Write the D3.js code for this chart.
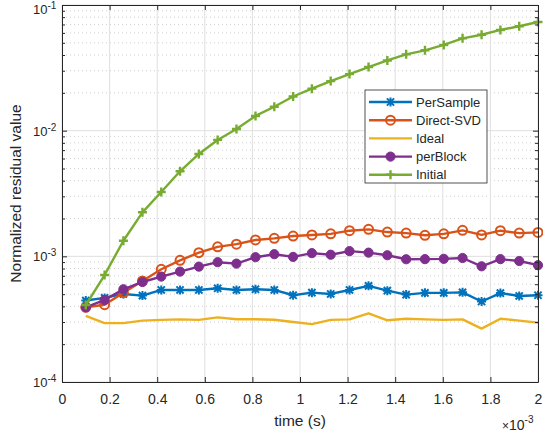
<!DOCTYPE html>
<html>
<head>
<meta charset="utf-8">
<script src="https://cdn.jsdelivr.net/npm/d3@7"></script>
<style>
  body { margin: 0; background: #fff; }
  #chart-area { width: 543px; height: 438px; }
  text { font-family: "Liberation Sans", Arial, sans-serif; fill: #262626; }
</style>
</head>
<body>
<div id="chart-area"></div>
<script>
// time samples (s)
let timeValues = [0.100e-3, 0.179e-3, 0.258e-3, 0.338e-3, 0.417e-3, 0.496e-3, 0.575e-3, 0.654e-3,
    0.733e-3, 0.813e-3, 0.892e-3, 0.971e-3, 1.050e-3, 1.129e-3, 1.208e-3, 1.288e-3, 1.367e-3,
    1.446e-3, 1.525e-3, 1.604e-3, 1.683e-3, 1.763e-3, 1.842e-3, 1.921e-3, 2.000e-3];

let perSample = [4.45e-4, 4.67e-4, 5.02e-4, 4.87e-4, 5.40e-4, 5.40e-4, 5.40e-4, 5.57e-4, 5.40e-4,
    5.47e-4, 5.40e-4, 4.90e-4, 5.14e-4, 5.02e-4, 5.40e-4, 5.82e-4, 5.33e-4, 4.96e-4, 5.12e-4,
    5.12e-4, 5.17e-4, 4.37e-4, 5.10e-4, 4.84e-4, 4.90e-4];

let directSVD = [3.93e-4, 4.12e-4, 5.14e-4, 6.37e-4, 7.89e-4, 9.30e-4, 1.07e-3, 1.19e-3, 1.25e-3,
    1.35e-3, 1.39e-3, 1.45e-3, 1.48e-3, 1.51e-3, 1.60e-3, 1.64e-3, 1.56e-3, 1.53e-3, 1.47e-3,
    1.51e-3, 1.61e-3, 1.48e-3, 1.60e-3, 1.53e-3, 1.55e-3];

let ideal = [3.36e-4, 2.94e-4, 2.94e-4, 3.08e-4, 3.12e-4, 3.15e-4, 3.12e-4, 3.27e-4, 3.16e-4,
    3.16e-4, 3.13e-4, 3.00e-4, 2.89e-4, 3.12e-4, 3.15e-4, 3.52e-4, 3.10e-4, 3.19e-4, 3.15e-4,
    3.12e-4, 3.15e-4, 2.66e-4, 3.19e-4, 3.08e-4, 2.97e-4];

let perBlock = [3.93e-4, 4.50e-4, 5.47e-4, 6.25e-4, 6.90e-4, 7.56e-4, 8.28e-4, 8.98e-4, 8.75e-4,
    9.84e-4, 1.04e-3, 9.90e-4, 1.06e-3, 1.03e-3, 1.10e-3, 1.07e-3, 1.02e-3, 9.48e-4, 9.50e-4,
    9.55e-4, 9.70e-4, 8.33e-4, 9.50e-4, 9.18e-4, 8.50e-4];

let initial = [4.10e-4, 7.10e-4, 1.33e-3, 2.24e-3, 3.25e-3, 4.75e-3, 6.53e-3, 8.44e-3, 1.03e-2,
    1.31e-2, 1.55e-2, 1.87e-2, 2.16e-2, 2.48e-2, 2.82e-2, 3.21e-2, 3.62e-2, 4.05e-2, 4.36e-2,
    4.81e-2, 5.43e-2, 5.80e-2, 6.33e-2, 6.78e-2, 7.32e-2];

let seriesNames = ["PerSample", "Direct-SVD", "Ideal", "perBlock", "Initial"];
let xTicks = [0, 0.2e-3, 0.4e-3, 0.6e-3, 0.8e-3, 1.0e-3, 1.2e-3, 1.4e-3, 1.6e-3, 1.8e-3, 2.0e-3];
let xTickLabels = ["0", "0.2", "0.4", "0.6", "0.8", "1", "1.2", "1.4", "1.6", "1.8", "2"];
let yTicks = [1e-4, 1e-3, 1e-2, 1e-1];
let yTickExponents = ["-4", "-3", "-2", "-1"];

class ResidualChart {

    constructor(parentElement) {
        this.parentElement = parentElement;
    }

    initVis() {
        let vis = this;

        vis.margin = {top: 5, right: 5, bottom: 56, left: 62};
        vis.width = 543 - vis.margin.left - vis.margin.right;
        vis.height = 438 - vis.margin.top - vis.margin.bottom;

        vis.svg = d3.select("#" + vis.parentElement)
            .append("svg")
            .attr("width", 543)
            .attr("height", 438)
            .append("g")
            .attr("transform", `translate(${vis.margin.left}, ${vis.margin.top})`);

        // Scales
        vis.x = d3.scaleLinear()
            .domain([0, 2e-3])
            .range([0, vis.width]);
        vis.y = d3.scaleLog()
            .domain([1e-4, 1e-1])
            .range([vis.height, 0]);

        vis.minorY = [];
        for (let e = -4; e < -1; e++) {
            for (let m = 2; m <= 9; m++) vis.minorY.push(m * Math.pow(10, e));
        }

        vis.wrangleData();
    }

    wrangleData() {
        let vis = this;

        let columns = [perSample, directSVD, ideal, perBlock, initial];
        let colors = ["#0072BD", "#D95319", "#EDB120", "#7E2F8E", "#77AC30"];
        let markers = ["star", "circle", "none", "dot", "plus"];

        vis.series = seriesNames.map((name, i) => ({
            name: name,
            color: colors[i],
            marker: markers[i],
            values: timeValues.map((t, j) => ({t: t, v: columns[i][j]}))
        }));

        vis.updateVis();
    }

    drawMarker(g, type, color, cx, cy) {
        if (type === "circle") {
            g.append("circle").attr("cx", cx).attr("cy", cy).attr("r", 4.5)
                .attr("fill", "none").attr("stroke", color).attr("stroke-width", 2);
        } else if (type === "dot") {
            g.append("circle").attr("cx", cx).attr("cy", cy).attr("r", 4.6)
                .attr("fill", color).attr("stroke", color).attr("stroke-width", 1);
        } else if (type === "plus") {
            g.append("path")
                .attr("d", `M${cx - 4.5},${cy}H${cx + 4.5}M${cx},${cy - 4.5}V${cy + 4.5}`)
                .attr("stroke", color).attr("stroke-width", 2.4).attr("fill", "none");
        } else if (type === "star") {
            let s = 3.6;
            g.append("path")
                .attr("d", `M${cx - 4.5},${cy}H${cx + 4.5}M${cx},${cy - 4.5}V${cy + 4.5}` +
                    `M${cx - s},${cy - s}L${cx + s},${cy + s}M${cx - s},${cy + s}L${cx + s},${cy - s}`)
                .attr("stroke", color).attr("stroke-width", 2).attr("fill", "none");
        }
    }

    updateVis() {
        let vis = this;

        // Minor grid (dotted)
        vis.svg.append("g").selectAll("line")
            .data(vis.minorY)
            .enter().append("line")
            .attr("x1", 0).attr("x2", vis.width)
            .attr("y1", d => vis.y(d)).attr("y2", d => vis.y(d))
            .attr("stroke", "#c4c4c4").attr("stroke-width", 0.8)
            .attr("stroke-dasharray", "1,3");

        // Major grid
        vis.svg.append("g").selectAll("line")
            .data(xTicks)
            .enter().append("line")
            .attr("x1", d => vis.x(d)).attr("x2", d => vis.x(d))
            .attr("y1", 0).attr("y2", vis.height)
            .attr("stroke", "#dfdfdf").attr("stroke-width", 1);
        vis.svg.append("g").selectAll("line")
            .data(yTicks)
            .enter().append("line")
            .attr("x1", 0).attr("x2", vis.width)
            .attr("y1", d => vis.y(d)).attr("y2", d => vis.y(d))
            .attr("stroke", "#dfdfdf").attr("stroke-width", 1);

        // Lines and markers
        let line = d3.line()
            .x(d => vis.x(d.t))
            .y(d => vis.y(d.v));

        vis.series.forEach(s => {
            let g = vis.svg.append("g");
            g.append("path")
                .datum(s.values)
                .attr("fill", "none")
                .attr("stroke", s.color)
                .attr("stroke-width", 2.4)
                .attr("stroke-linejoin", "round")
                .attr("d", line);
            s.values.forEach(d => vis.drawMarker(g, s.marker, s.color, vis.x(d.t), vis.y(d.v)));
        });

        // Axes (ticks inside, box)
        let axisColor = "#262626";
        let bottom = vis.svg.append("g")
            .attr("transform", `translate(0, ${vis.height})`)
            .call(d3.axisBottom(vis.x).tickValues(xTicks).tickSizeInner(-5).tickSizeOuter(0)
                .tickPadding(12).tickFormat((d, i) => xTickLabels[i]));
        let top = vis.svg.append("g")
            .call(d3.axisTop(vis.x).tickValues(xTicks).tickSizeInner(-5).tickSizeOuter(0).tickFormat(""));
        let left = vis.svg.append("g")
            .call(d3.axisLeft(vis.y).tickValues(yTicks).tickSizeInner(-5).tickSizeOuter(0).tickFormat(""));
        let right = vis.svg.append("g")
            .attr("transform", `translate(${vis.width}, 0)`)
            .call(d3.axisRight(vis.y).tickValues(yTicks).tickSizeInner(-5).tickSizeOuter(0).tickFormat(""));
        let leftMinor = vis.svg.append("g")
            .call(d3.axisLeft(vis.y).tickValues(vis.minorY).tickSizeInner(-3).tickSizeOuter(0).tickFormat(""));
        let rightMinor = vis.svg.append("g")
            .attr("transform", `translate(${vis.width}, 0)`)
            .call(d3.axisRight(vis.y).tickValues(vis.minorY).tickSizeInner(-3).tickSizeOuter(0).tickFormat(""));

        [bottom, top, left, right, leftMinor, rightMinor].forEach(a => {
            a.selectAll("path").attr("stroke", axisColor);
            a.selectAll("line").attr("stroke", axisColor);
            a.selectAll("text")
                .attr("fill", axisColor)
                .attr("font-size", "14px")
                .attr("font-family", "Liberation Sans, Arial, sans-serif");
        });
        leftMinor.select("path").remove();
        rightMinor.select("path").remove();

        // Y tick labels 10^n (top one nudged down to stay in view)
        yTicks.forEach((d, i) => {
            let t = vis.svg.append("text")
                .attr("x", -29)
                .attr("y", Math.max(vis.y(d) + 5, 9))
                .attr("font-size", "13px");
            t.append("tspan").text("10");
            t.append("tspan").attr("dy", -5).attr("font-size", "10px").text(yTickExponents[i]);
        });

        // Exponent label on x axis
        let ex = vis.svg.append("text")
            .attr("x", vis.width - 36)
            .attr("y", vis.height + 48)
            .attr("font-size", "14px");
        ex.append("tspan").attr("font-size", "12px").text("\u00d7");
        ex.append("tspan").text("10");
        ex.append("tspan").attr("dy", -7).attr("font-size", "10px").text("-3");

        // Axis labels
        vis.svg.append("text")
            .text("time (s)")
            .attr("x", vis.width / 2)
            .attr("y", vis.height + 44)
            .attr("text-anchor", "middle")
            .attr("font-size", "15.5px");
        vis.svg.append("text")
            .text("Normalized residual value")
            .attr("transform", `translate(${-41}, ${vis.height / 2}) rotate(-90)`)
            .attr("text-anchor", "middle")
            .attr("font-size", "15.5px");

        // Legend
        let lx = 365 - vis.margin.left, ly = 90 - vis.margin.top;
        let legend = vis.svg.append("g").attr("transform", `translate(${lx}, ${ly})`);
        legend.append("rect")
            .attr("width", 122).attr("height", 93)
            .attr("fill", "#fff").attr("stroke", axisColor).attr("stroke-width", 0.8);
        vis.series.forEach((s, i) => {
            let cy = 12 + i * 18.2;
            legend.append("line")
                .attr("x1", 4).attr("x2", 47).attr("y1", cy).attr("y2", cy)
                .attr("stroke", s.color).attr("stroke-width", 2.4);
            vis.drawMarker(legend, s.marker, s.color, 25.5, cy);
            legend.append("text")
                .attr("x", 51).attr("y", cy + 4.5)
                .attr("font-size", "13px")
                .text(s.name);
        });
    }
}

let chart = new ResidualChart("chart-area");
chart.initVis();
</script>
</body>
</html>
